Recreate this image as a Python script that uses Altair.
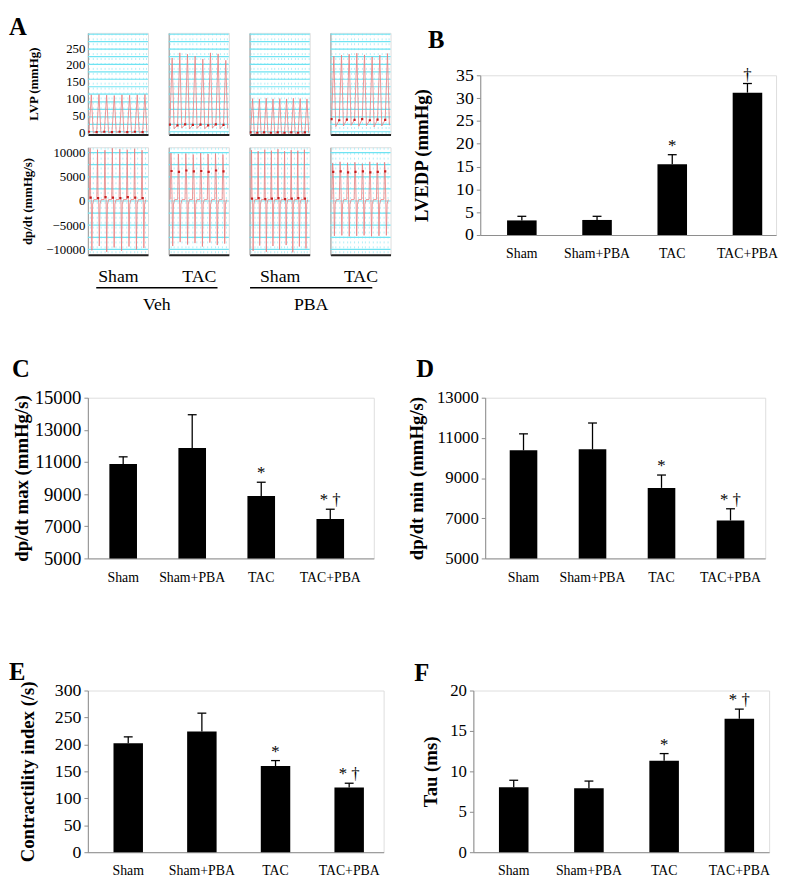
import altair as alt
import pandas as pd

FONT = "Liberation Serif"
GROUPS = ["Sham", "Sham+PBA", "TAC", "TAC+PBA"]

# ---------------- Panel B : LVEDP ----------------
lvedp_mean = [3.2, 3.3, 15.5, 31.2]
lvedp_err = [0.9, 0.8, 2.1, 2.0]
lvedp_sig = ["", "", "*", "†"]
lvedp_ticks = [0, 5, 10, 15, 20, 25, 30, 35]

# ---------------- Panel C : dp/dt max ----------------
dpdtmax_mean = [10870, 11870, 8880, 7450]
dpdtmax_err = [450, 2070, 860, 610]
dpdtmax_sig = ["", "", "*", "* †"]
dpdtmax_ticks = [5000, 7000, 9000, 11000, 13000, 15000]

# ---------------- Panel D : dp/dt min ----------------
dpdtmin_mean = [10380, 10430, 8510, 6890]
dpdtmin_err = [820, 1310, 640, 580]
dpdtmin_sig = ["", "", "*", "* †"]
dpdtmin_ticks = [5000, 7000, 9000, 11000, 13000]

# ---------------- Panel E : contractility index ----------------
ci_mean = [202, 224, 160, 120]
ci_err = [12, 34, 10, 8]
ci_sig = ["", "", "*", "* †"]
ci_ticks = [0, 50, 100, 150, 200, 250, 300]

# ---------------- Panel F : Tau ----------------
tau_mean = [8.05, 7.9, 11.3, 16.5]
tau_err = [0.85, 0.9, 0.9, 1.2]
tau_sig = ["", "", "*", "* †"]
tau_ticks = [0, 5, 10, 15, 20]

# ---------------- Panel A : pressure tracings ----------------
trace_groups = ["Sham", "TAC", "Sham", "TAC"]
treatments = ["Veh", "PBA"]

lvp_peaks = [
    [112, 113, 111, 110, 112, 111, 112, 113],
    [221, 236, 232, 226, 218, 236, 233, 214],
    [101, 100, 102, 100, 101, 100, 102, 101, 100],
    [226, 229, 232, 235, 230, 224, 229, 234],
]
lvp_edp = [
    [3, 2, 3, 2, 3, 2, 3, 2],
    [24, 22, 25, 23, 24, 22, 25, 23],
    [1, 0, 1, 0, 1, 0, 1, 0, 1],
    [40, 37, 39, 38, 40, 37, 39, 38],
]
lvp_min = [
    [1, 1, 0, 1, 1, 0, 1, 1],
    [12, 14, 11, 13, 12, 14, 12, 13],
    [-2, -2, -1, -2, -2, -1, -2, -2, -1],
    [18, 20, 22, 19, 21, 17, 20, 22],
]
lvp_ticks = [0, 50, 100, 150, 200, 250]
lvp_grid = [3, 25, 47, 69, 91, 114, 136, 158, 180, 202, 225, 247, 269, 291]

dpdt_max = [
    [10900, 10600, 10500, 10900, 10700, 10600, 10800, 10500],
    [9900, 9700, 9800, 9600, 9900, 9700, 9800, 9600],
    [10500, 10300, 10600, 10400, 10700, 10300, 10500, 10400, 10600],
    [7800, 8100, 7900, 8000, 7700, 8100, 7900, 8000],
]
dpdt_notch = [
    [700, 600, 800, 700, 600, 800, 700, 600],
    [6200, 6000, 6300, 6100, 6200, 6000, 6300, 6100],
    [500, 600, 400, 500, 600, 400, 500, 600, 500],
    [6000, 6100, 5900, 6000, 6100, 5900, 6000, 6100],
]
dpdt_min = [
    [-10200, -9300, -10500, -9600, -10300, -9400, -10000, -9700],
    [-9300, -8500, -9000, -8700, -9400, -8600, -9100, -8800],
    [-10300, -9200, -10500, -9300, -10000, -9100, -10600, -9400, -9800],
    [-7200, -7100, -7300, -7200, -7100, -7300, -7200, -7100],
]
dpdt_ticks = [-10000, -5000, 0, 5000, 10000]
dpdt_grid = [-10000, -7500, -5000, -2500, 0, 2500, 5000, 7500, 10000]

TRACE_W = 61
GRID_C = "#6fe3f2"
VGRID_C = "#b3eff8"
TRACE_C = "#ea7d7d"
DOT_C = "#c81e1e"
LETTER = dict(anchor="start", frame="group", fontSize=25, font=FONT, fontWeight="bold", color="black")
NO_FRAME = alt.ViewBackground(strokeWidth=0, strokeOpacity=0, fillOpacity=0)


def spacer(w, h, title=None):
    props = dict(width=w, height=h, view=NO_FRAME)
    if title is not None:
        props["title"] = title
    return alt.Chart(pd.DataFrame({"z": [0]})).mark_text(text=" ", opacity=0).encode(
        x=alt.value(0), y=alt.value(0)).properties(**props)


def trace_panel(kind, i):
    pts, dots = [], []
    if kind == "lvp":
        for k, (e, p, m) in enumerate(zip(lvp_edp[i], lvp_peaks[i], lvp_min[i])):
            pts += [(k, e), (k + 0.3, p), (k + 0.55, m)]
            dots.append((k, e))
        ydom, grid, ticks, ytitle, h, tpad = [-5, 295], lvp_grid, lvp_ticks, "LVP (mmHg)", 103, 26
        xdom = [-0.15, len(lvp_peaks[i]) - 0.3]
        xtitle = None
    else:
        for k, (mx, nt, mn) in enumerate(zip(dpdt_max[i], dpdt_notch[i], dpdt_min[i])):
            pts += [(k, 300), (k + 0.1, mx), (k + 0.18, nt), (k + 0.26, 200),
                    (k + 0.34, mn), (k + 0.44, -600), (k + 0.6, 300)]
            dots.append((k + 0.18, nt))
        ydom, grid, ticks, ytitle, h, tpad = [-11100, 11100], dpdt_grid, dpdt_ticks, "dp/dt (mmHg/s)", 109, 11
        xdom = [-0.2, len(dpdt_max[i]) - 0.1]
        xtitle = trace_groups[i]

    pdf = pd.DataFrame(pts, columns=["t", "v"])
    ddf = pd.DataFrame(dots, columns=["t", "v"])
    gdf = pd.DataFrame({"level": grid})
    yscale = alt.Scale(domain=ydom, nice=False, zero=False)
    xscale = alt.Scale(domain=xdom, nice=False, zero=False)

    if i == 0:
        yaxis = alt.Axis(values=ticks, grid=False, ticks=False, labelFont=FONT, labelFontSize=13,
                         labelColor="black", labelPadding=3, labelOverlap=False, format="d",
                         domainColor="#999999",
                         title=ytitle, titleFont=FONT, titleFontSize=13, titleFontWeight="bold",
                         titleColor="black", titlePadding=tpad)
    else:
        yaxis = alt.Axis(labels=False, ticks=False, grid=False, title=None, domainColor="#999999")

    xaxis_kw = dict(grid=True, gridColor=VGRID_C, gridDash=[2, 3], gridWidth=1, tickCount=16,
                    labels=False, ticks=False, domainColor="#222222", domainWidth=2)
    if xtitle:
        xaxis = alt.Axis(title=xtitle, titleFont=FONT, titleFontSize=18, titleFontWeight="normal",
                         titleColor="black", titlePadding=13, **xaxis_kw)
    else:
        xaxis = alt.Axis(title=None, **xaxis_kw)

    g = alt.Chart(gdf).mark_rule(color=GRID_C, strokeWidth=1.2).encode(
        y=alt.Y("level:Q", scale=yscale, axis=yaxis))
    line = alt.Chart(pdf).mark_line(color=TRACE_C, strokeWidth=0.8, clip=True).encode(
        x=alt.X("t:Q", scale=xscale, axis=xaxis), y=alt.Y("v:Q", scale=yscale, axis=yaxis))
    dot = alt.Chart(ddf).mark_square(size=5, color=DOT_C, opacity=1, clip=True).encode(
        x=alt.X("t:Q", scale=xscale, axis=xaxis), y=alt.Y("v:Q", scale=yscale, axis=yaxis))
    props = dict(width=TRACE_W, height=h)
    if kind == "lvp" and i == 0:
        props["title"] = alt.TitleParams("A", dx=-80, offset=-7, **LETTER)
    return alt.layer(g, line, dot).properties(**props)


def treatment_label(name, w):
    return alt.Chart(pd.DataFrame({"z": [0]})).mark_text(text=" ", opacity=0).encode(
        x=alt.X("z:Q", axis=alt.Axis(title=name, labels=False, ticks=False, grid=False,
                                     domainColor="black", domainWidth=1.5, titleFont=FONT,
                                     titleFontSize=18, titleFontWeight="normal", titleColor="black",
                                     titlePadding=9)),
        y=alt.value(0),
    ).properties(width=w, height=1, view=NO_FRAME)


lvp_row = alt.hconcat(*[trace_panel("lvp", i) for i in range(4)], spacing=17)
dpdt_row = alt.hconcat(*[trace_panel("dpdt", i) for i in range(4)], spacing=17)
veh_row = alt.hconcat(
    spacer(1, 1),
    alt.hconcat(treatment_label(treatments[0], 123), treatment_label(treatments[1], 124), spacing=33),
    spacing=7)

panel_a = alt.vconcat(alt.vconcat(lvp_row, dpdt_row, spacing=5), veh_row, spacing=-13)


def bar_panel(letter, ytitle, means, errs, sig, ticks, width, height, pi, po, al,
              title_dx, title_pad, title_offset, label_size):
    tops = [m + e for m, e in zip(means, errs)]
    df = pd.DataFrame({"group": GROUPS, "mean": means, "top": tops, "sig": sig,
                       "base": [ticks[0]] * len(GROUPS)})
    yscale = alt.Scale(domain=[ticks[0], ticks[-1]], nice=False, zero=False)
    x = alt.X("group:N", sort=GROUPS,
              scale=alt.Scale(paddingInner=pi, paddingOuter=po, align=al),
              axis=alt.Axis(title=None, labelAngle=0, labelFont=FONT, labelFontSize=14,
                            labelColor="black", ticks=False, domainColor="#8c8c8c",
                            labelPadding=12))
    yaxis = alt.Axis(values=ticks, grid=False, ticks=True, tickSize=4, tickColor="#8c8c8c",
                     domainColor="#8c8c8c", labelFont=FONT, labelFontSize=label_size,
                     labelColor="black", labelPadding=3, labelOverlap=False, format="d",
                     title=ytitle, titleFont=FONT, titleFontSize=19,
                     titleFontWeight="bold", titleColor="black", titlePadding=title_pad)
    base = alt.Chart(df)
    bars = base.mark_bar(color="black").encode(
        x=x, y=alt.Y("mean:Q", scale=yscale, axis=yaxis), y2=alt.Y2("base:Q"))
    err = base.mark_rule(color="black", strokeWidth=1.3).encode(
        x=x, y=alt.Y("mean:Q", scale=yscale, axis=yaxis), y2=alt.Y2("top:Q"))
    cap = base.mark_tick(color="black", size=9, thickness=1.3, opacity=1).encode(
        x=x, y=alt.Y("top:Q", scale=yscale, axis=yaxis))
    txt = base.mark_text(font=FONT, fontSize=17, baseline="alphabetic", dy=-4, color="black").encode(
        x=x, y=alt.Y("top:Q", scale=yscale, axis=yaxis), text="sig:N")
    props = dict(width=width, height=height)
    if letter:
        props["title"] = alt.TitleParams(letter, dx=title_dx, offset=title_offset, **LETTER)
    return alt.layer(bars, err, cap, txt).properties(**props)


panel_b = bar_panel(None, "LVEDP (mmHg)", lvedp_mean, lvedp_err, lvedp_sig, lvedp_ticks,
                    300, 162, 0.607, 0.27, 0.66, -53, 25, 4, 18)
panel_c = bar_panel("C", "dp/dt max (mmHg/s)", dpdtmax_mean, dpdtmax_err, dpdtmax_sig, dpdtmax_ticks,
                    290, 163, 0.6, 0.371, 0.42, -77, 3, 7, 19)
panel_d = bar_panel("D", "dp/dt min (mmHg/s)", dpdtmin_mean, dpdtmin_err, dpdtmin_sig, dpdtmin_ticks,
                    284, 163, 0.6, 0.329, 0.54, -70, 10, 7, 17)
panel_e = bar_panel("E", "Contractility index (/s)", ci_mean, ci_err, ci_sig, ci_ticks,
                    300, 164, 0.6, 0.308, 0.565, -80, 17, -4, 18)
panel_f = bar_panel("F", "Tau (ms)", tau_mean, tau_err, tau_sig, tau_ticks,
                    300, 164, 0.607, 0.27, 0.63, -60, 9, -4, 17)

b_letter = spacer(1, 1, alt.TitleParams("B", dx=-53, offset=-26, **LETTER))
panel_b_col = alt.vconcat(b_letter, panel_b, spacing=12)

row1 = alt.hconcat(panel_a, panel_b_col, spacing=19)
row2 = alt.hconcat(panel_c, panel_d, spacing=33)
row3 = alt.hconcat(panel_e, panel_f, spacing=29)

chart = alt.vconcat(alt.vconcat(row1, row2, spacing=43), row3, spacing=75).properties(
    padding=0, background="white"
).configure_view(strokeWidth=0, stroke="transparent").configure_axis(labelOverlap=False).configure(font=FONT)

chart.save("out.html", embed_options={"renderer": "svg", "actions": False})
